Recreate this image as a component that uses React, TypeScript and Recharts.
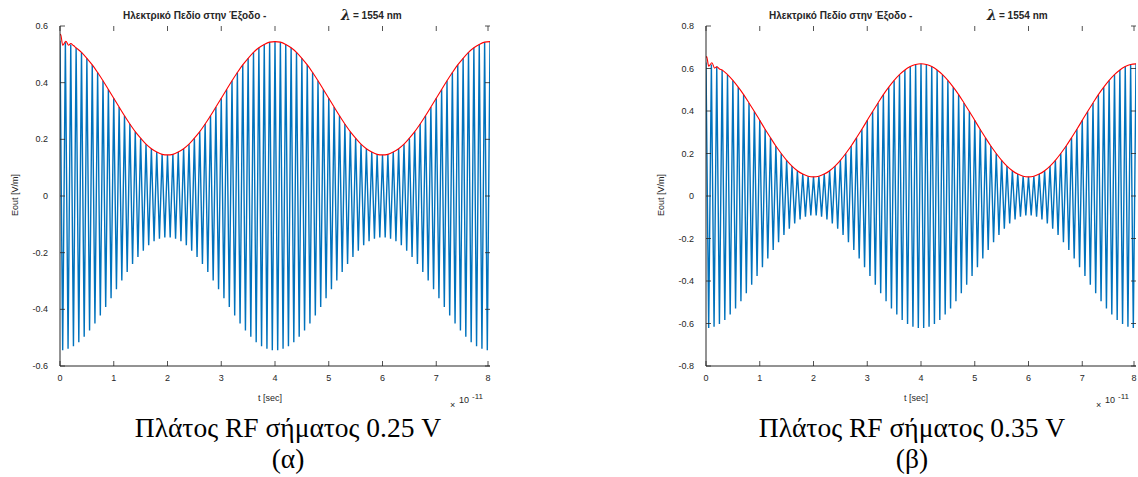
import React from "react";
import { LineChart, Line, XAxis, YAxis } from "recharts";

// sample grid: peaks every 0.1 (x1e-11 s), troughs halfway between
const X_TICKS = [0, 1, 2, 3, 4, 5, 6, 7, 8];
const Y_TICKS_A = [-0.6, -0.4, -0.2, 0, 0.2, 0.4, 0.6];
const Y_TICKS_B = [-0.8, -0.6, -0.4, -0.2, 0, 0.2, 0.4, 0.6, 0.8];

// (α) RF 0.25 V
const PEAKS_A = [
    0.548, 0.543, 0.535, 0.523, 0.507, 0.486, 0.463, 0.436, 0.407, 0.376, 0.345,
    0.314, 0.283, 0.254, 0.227, 0.204, 0.183, 0.167, 0.155, 0.147, 0.145,
    0.147, 0.155, 0.167, 0.183, 0.204, 0.227, 0.254, 0.283, 0.314, 0.345,
    0.376, 0.407, 0.436, 0.463, 0.486, 0.507, 0.523, 0.535, 0.543, 0.545,
    0.543, 0.535, 0.523, 0.507, 0.486, 0.463, 0.436, 0.407, 0.376, 0.345,
    0.314, 0.283, 0.254, 0.227, 0.204, 0.183, 0.167, 0.155, 0.147, 0.145,
    0.147, 0.155, 0.167, 0.183, 0.204, 0.227, 0.254, 0.283, 0.314, 0.345,
    0.376, 0.407, 0.436, 0.463, 0.486, 0.507, 0.523, 0.535, 0.543, 0.545
];
const TROUGHS_A = [
    -0.544, -0.539, -0.530, -0.516, -0.497, -0.475, -0.450, -0.422, -0.392, -0.361,
    -0.329, -0.298, -0.268, -0.240, -0.215, -0.193, -0.174, -0.160, -0.151, -0.146,
    -0.146, -0.151, -0.160, -0.174, -0.193, -0.215, -0.240, -0.268, -0.298, -0.329,
    -0.361, -0.392, -0.422, -0.450, -0.475, -0.497, -0.516, -0.530, -0.539, -0.544,
    -0.544, -0.539, -0.530, -0.516, -0.497, -0.475, -0.450, -0.422, -0.392, -0.361,
    -0.329, -0.298, -0.268, -0.240, -0.215, -0.193, -0.174, -0.160, -0.151, -0.146,
    -0.146, -0.151, -0.160, -0.174, -0.193, -0.215, -0.240, -0.268, -0.298, -0.329,
    -0.361, -0.392, -0.422, -0.450, -0.475, -0.497, -0.516, -0.530, -0.539, -0.544
];

// (β) RF 0.35 V
const PEAKS_B = [
    0.628, 0.619, 0.609, 0.593, 0.571, 0.544, 0.512, 0.477, 0.438, 0.398, 0.356,
    0.314, 0.274, 0.235, 0.200, 0.168, 0.141, 0.119, 0.103, 0.093, 0.090,
    0.093, 0.103, 0.119, 0.141, 0.168, 0.200, 0.235, 0.274, 0.314, 0.356,
    0.398, 0.438, 0.477, 0.512, 0.544, 0.571, 0.593, 0.609, 0.619, 0.622,
    0.619, 0.609, 0.593, 0.571, 0.544, 0.512, 0.477, 0.438, 0.398, 0.356,
    0.314, 0.274, 0.235, 0.200, 0.168, 0.141, 0.119, 0.103, 0.093, 0.090,
    0.093, 0.103, 0.119, 0.141, 0.168, 0.200, 0.235, 0.274, 0.314, 0.356,
    0.398, 0.438, 0.477, 0.512, 0.544, 0.571, 0.593, 0.609, 0.619, 0.622
];
const TROUGHS_B = [
    -0.621, -0.615, -0.602, -0.583, -0.558, -0.529, -0.495, -0.458, -0.418, -0.377,
    -0.335, -0.294, -0.254, -0.217, -0.183, -0.154, -0.129, -0.110, -0.097, -0.091,
    -0.091, -0.097, -0.110, -0.129, -0.154, -0.183, -0.217, -0.254, -0.294, -0.335,
    -0.377, -0.418, -0.458, -0.495, -0.529, -0.558, -0.583, -0.602, -0.615, -0.621,
    -0.621, -0.615, -0.602, -0.583, -0.558, -0.529, -0.495, -0.458, -0.418, -0.377,
    -0.335, -0.294, -0.254, -0.217, -0.183, -0.154, -0.129, -0.110, -0.097, -0.091,
    -0.091, -0.097, -0.110, -0.129, -0.154, -0.183, -0.217, -0.254, -0.294, -0.335,
    -0.377, -0.418, -0.458, -0.495, -0.529, -0.558, -0.583, -0.602, -0.615, -0.621
];

// red envelope: ripple at the start, then it follows the peaks
const ENV_START_T = [0, 0.012, 0.05, 0.11, 0.16, 0.2, 0.25];
const ENV_START_A = [0.567, 0.571, 0.532, 0.546, 0.532, 0.538, 0.531];
const ENV_START_B = [0.651, 0.656, 0.611, 0.627, 0.602, 0.608, 0.598];

const BLUE = "#0072BD";
const RED = "#FF0000";
const INK = "#262626";
const SANS = "'Liberation Sans', Arial, sans-serif";
const SERIF = "'Liberation Serif', 'DejaVu Serif', serif";

// plot box inside each panel
const L = 60, R = 490, T = 26, B = 366;

function buildSignal(peaks: number[], troughs: number[]) {
    const out: { t: number; v: number }[] = [];
    peaks.forEach((v, i) => {
        out.push({ t: i / 10, v });
        if (i < troughs.length) out.push({ t: i / 10 + 0.05, v: troughs[i] });
    });
    return out;
}

function buildEnvelope(startV: number[], peaks: number[]) {
    const head = ENV_START_T.map((t, i) => ({ t, v: startV[i] }));
    const tail = peaks.slice(3).map((v, i) => ({ t: (i + 3) / 10, v }));
    return [...head, ...tail];
}

const XTick = (p: any) => {
    const x = p.x;
    return (
        <g>
            <line x1={x} x2={x} y1={B} y2={B - 5} stroke={INK} strokeWidth={0.8} />
            <line x1={x} x2={x} y1={T} y2={T + 5} stroke={INK} strokeWidth={0.8} />
            <text x={x} y={B + 15} textAnchor="middle" fontSize={9} fill={INK} fontFamily={SANS}>
                {p.payload.value}
            </text>
        </g>
    );
};

const YTick = (p: any) => {
    const y = p.y;
    return (
        <g>
            <line x1={L} x2={L + 5} y1={y} y2={y} stroke={INK} strokeWidth={0.8} />
            <line x1={R - 5} x2={R} y1={y} y2={y} stroke={INK} strokeWidth={0.8} />
            <text x={L - 12} y={y + 3} textAnchor="end" fontSize={9} fill={INK} fontFamily={SANS}>
                {String(p.payload.value)}
            </text>
        </g>
    );
};

interface PanelProps {
    left: number;
    peaks: number[];
    troughs: number[];
    envStart: number[];
    yTicks: number[];
    caption: string;
    tag: string;
    captionX: number;
}

function Panel({ left, peaks, troughs, envStart, yTicks, caption, tag, captionX }: PanelProps) {
    const signal = buildSignal(peaks, troughs);
    const env = buildEnvelope(envStart, peaks);
    const yMax = yTicks[yTicks.length - 1];

    return (
        <div style={{ position: "absolute", left, top: 0, width: 492, height: 477 }}>
            <LineChart
                width={492}
                height={400}
                margin={{ top: T, right: 2, left: 0, bottom: 0 }}
            >
                <XAxis
                    dataKey="t"
                    type="number"
                    domain={[0, 8]}
                    ticks={X_TICKS}
                    height={34}
                    stroke={INK}
                    tickLine={false}
                    tick={XTick}
                    allowDataOverflow
                />
                <XAxis
                    xAxisId="top"
                    orientation="top"
                    type="number"
                    domain={[0, 8]}
                    height={0}
                    stroke={INK}
                    tick={false}
                    tickLine={false}
                />
                <YAxis
                    type="number"
                    domain={[-yMax, yMax]}
                    ticks={yTicks}
                    width={L}
                    stroke={INK}
                    tickLine={false}
                    tick={YTick}
                    allowDataOverflow
                />
                <YAxis
                    yAxisId="right"
                    orientation="right"
                    type="number"
                    domain={[-yMax, yMax]}
                    width={0}
                    stroke={INK}
                    tick={false}
                    tickLine={false}
                />
                <Line
                    data={signal}
                    dataKey="v"
                    type="linear"
                    stroke={BLUE}
                    strokeWidth={1.4}
                    dot={false}
                    isAnimationActive={false}
                />
                <Line
                    data={env}
                    dataKey="v"
                    type="monotone"
                    stroke={RED}
                    strokeWidth={1.1}
                    dot={false}
                    isAnimationActive={false}
                />
            </LineChart>

            <svg
                width={492}
                height={477}
                style={{ position: "absolute", left: 0, top: 0, pointerEvents: "none" }}
            >
                <text x={123} y={19} fontSize={10} fontWeight="bold" fill={INK} fontFamily={SANS}>
                    Ηλεκτρικό Πεδίο στην Έξοδο -
                </text>
                <text
                    x={341}
                    y={20}
                    fontSize={14}
                    fontStyle="italic"
                    fontWeight="bold"
                    fill={INK}
                    fontFamily="'DejaVu Serif', serif"
                >
                    λ
                </text>
                <text x={353} y={19} fontSize={10} fontWeight="bold" fill={INK} fontFamily={SANS}>
                    = 1554 nm
                </text>
                <g transform="translate(15,195) rotate(-90)">
                    <text x={0} y={3} textAnchor="middle" fontSize={9} fill={INK} fontFamily={SANS}>
                        Eout [V/m]
                    </text>
                </g>
                <text x={270} y={401} textAnchor="middle" fontSize={9} fill={INK} fontFamily={SANS}>
                    t [sec]
                </text>
                <text x={450} y={408} fontSize={9} fill={INK} fontFamily={SANS}>×</text>
                <text x={459} y={403} fontSize={9} fill={INK} fontFamily={SANS}>10</text>
                <text x={472} y={399} fontSize={8} fill={INK} fontFamily={SANS}>-11</text>
                <text x={captionX} y={437} textAnchor="middle" fontSize={27.5} fill="#000" fontFamily={SERIF}>
                    {caption}
                </text>
                <text x={captionX} y={468} textAnchor="middle" fontSize={27.5} fill="#000" fontFamily={SERIF}>
                    {tag}
                </text>
            </svg>
        </div>
    );
}

export default function App() {
    return (
        <div
            style={{
                position: "absolute",
                left: 0,
                top: 0,
                width: 1138,
                height: 477,
                background: "#fff",
                overflow: "hidden"
            }}
        >
            <Panel
                left={0}
                peaks={PEAKS_A}
                troughs={TROUGHS_A}
                envStart={ENV_START_A}
                yTicks={Y_TICKS_A}
                caption="Πλάτος RF σήματος 0.25 V"
                tag="(α)"
                captionX={288}
            />
            <Panel
                left={646}
                peaks={PEAKS_B}
                troughs={TROUGHS_B}
                envStart={ENV_START_B}
                yTicks={Y_TICKS_B}
                caption="Πλάτος RF σήματος 0.35 V"
                tag="(β)"
                captionX={266}
            />
        </div>
    );
}
